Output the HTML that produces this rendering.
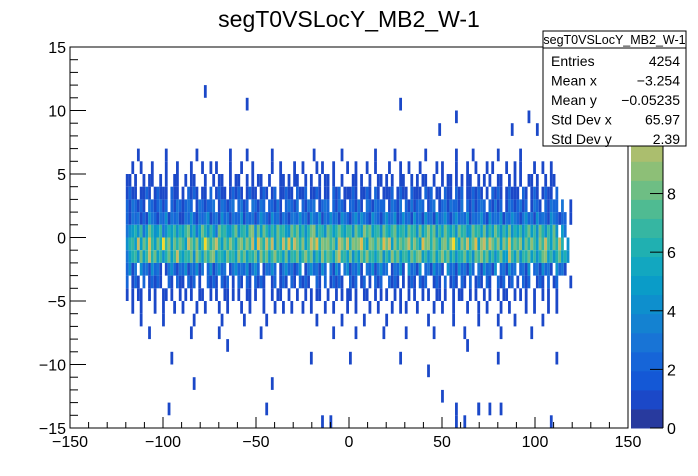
<!DOCTYPE html>
<html><head><meta charset="utf-8"><style>
body{margin:0;background:#fff;}
svg{display:block;font-family:"Liberation Sans",sans-serif;}
</style></head><body>
<svg id="c" width="698" height="476"></svg>
<script>
// x bins: width 1.5, starting at x=-120 (160 bins); rows keyed by y-bin lower edge
const binStartX = -120;
const binWidthX = 1.5;
const rowYs = [6,5,4,3,2,1,0,-1,-2,-3,-4,-5,-6,-7,-8];
const rowCounts = [
"....1.........1..........1...........1.....1........1..............1.........1...........1......1..........1..........1.....1........1.......1......",
"..1..1...1....1...1....1...1..1.1....1...1...1......1..1....1..1....1.1...1....1..1...1..1....1...1..1...1.....1.1....1...1..1...1.1....1..1.1....1..1..1",
"11.1..1.11..1.1..11..1.11...1..1.11..1.11..1.1.11..1...11.1.11..1.1..1.11.1..1...11.1..1..11.1.1..11..1.1.11..1..1.11.1.1.11..1.1.1..11..1.1.1..11.1..1.11......",
"1211.1121.12111.211.1.2121.11.2.1211.12121.1211.121.12.11211.2112.1121.11.212.11121.1121.21.1112.1211.2111.212.11.211.212.112121.1.2121.12111.21.121.1211.2.....",
"2132121.3212312.21321232.1321223.132123.2312.32132.22131.23213.21323.1232.21321.22131.3213222.13213.2131232.123.123132213.2131232.21312.13212312.1321.21322.3..1",
"21323121432132413231132421323412314231322413231243214231321332423143241324231432134243214321342341242314231423142342134232413234214232413243213423142321432122.1.",
"34564735864573465746578463586475386754684675894858647586754868574689576487568657748659785674865785675867485796847586574867458675847586475846574685748647584.53..",
"4675a586b7586c79586875a86957c868a758697589697a5b86a7a586a7b6a86957a8b6989785a97a6989b7598697b8a596878a6975b8969758969c7597a68b59a7a869597b687958697597a7586a6.4.",
"35674857a685746857a657684975868957658675968576849685796758476857968475968758a675847586967578475968577586895746857968574668574879685746855a758476857468957468564..",
"2413.42314231.13421324132413.2413423.13423241342.13242.13423124.13423142.3142.3413241.32413423.13241.42314.2314231.4231423142.3142314.231423.2314.2314231.4231....",
"2.121.2.12121..21.211.212.1..2121.212.1.21.21.2121..12.121.21.2121..21.2.12121..212.12.1.212..2121.1.121.212..121.2.121.21.2.121.21..212.12.1.212..121.2.12....1",
"1.1.11..1.1..11.1..1.1.1..11..1.1..11.1.1..11.1..1..1.11..1..1..1.1.11..1..1.1.11.1..11..1.1.1..1.1..1.1..1.1..11.1..1.11..1.1..1.1..1.11..1.1.1..1..1.1..1.....",
"..1..1....1..1...1..1....1..1....1..1....1..1....1...1..1..1...1..1....1..1....1..1....1..1....1..1.1...1.....1..1...1....1...1..1....1..1.....1..1....1..1.....",
".....1.......1..........1.........1.......1.......1.................1........1.......1.......1..............1........1........1......1.....1.........1.........",
"........1..............1.........1..............1.........................1.......1.........1.......1.........1..........1............1..........1..............."
];
// isolated entries far from the core band: x, y-bin lower edge, count
const sparseX = [-78,-55,27,57,48,88,96,101,-66,-20,0,27,63,80,112,-95,-83,42,-42,50,-97,-45,69,70,75,81,-15,-10,57,58,62,108];
const sparseY = [11,10,10,9,8,8,9,8,-9,-10,-10,-10,-9,-10,-10,-10,-12,-11,-12,-13,-14,-14,-14,-14,-14,-14,-15,-15,-14,-15,-15,-15];
const sparseC = [1,1,1,1,1,1,1,1,1,1,1,1,1,1,1,1,1,1,1,1,1,1,1,1,1,1,1,1,1,1,1,1];
const zMax = 13;
const paletteColors = ["#283a9e","#1b48c8","#1458d6","#1665d8","#1874d6","#1482d1","#0e8fcd","#0a9cc8","#12a7c0","#20b0b1","#36b6a2","#4fbb92","#6ebe84","#8dbf77","#abbe6e","#c8ba63","#ddbc4c","#ebc83a","#f3da28","#f8ef12"];

const NS="http://www.w3.org/2000/svg";
const svg=document.getElementById('c');
const fx0=70, fx1=628, fy0=47, fy1=428;
const xs=v=>fx0+(v+150)/300*(fx1-fx0);
const ys=v=>fy1-(v+15)/30*(fy1-fy0);
const zs=v=>fy1-v/zMax*(fy1-fy0);
function mk(t,a,p){const e=document.createElementNS(NS,t);for(const k in a)e.setAttribute(k,a[k]);(p||svg).appendChild(e);return e;}
function col(v){let i=Math.floor(v/zMax*20);if(i>19)i=19;if(i<0)i=0;return paletteColors[i];}
function val(ch){return ch==='.'?0:parseInt(ch,16);}

const cells=mk('g',{});


function cell(x0,y0,v){
  const r=mk('rect',{x:xs(x0),y:ys(y0+1),width:xs(x0+binWidthX)-xs(x0),height:ys(y0)-ys(y0+1),fill:col(v)},cells);
  
  
}
rowYs.forEach((y,ri)=>{
  const s=rowCounts[ri];
  for(let i=0;i<160&&i<s.length;i++){const v=val(s[i]);if(v>0)cell(binStartX+i*binWidthX,y,v);}
});
sparseX.forEach((x,i)=>{cell(binStartX+Math.floor((x-binStartX)/binWidthX)*binWidthX,sparseY[i],sparseC[i]);});

const fr=mk('rect',{x:fx0,y:fy0,width:fx1-fx0,height:fy1-fy0,fill:'none',stroke:'#000','stroke-width':1});



const xTicks=[-150,-100,-50,0,50,100,150];
const yTicks=[-15,-10,-5,0,5,10,15];
const zTicks=[0,2,4,6,8];
const ax=mk('g',{stroke:'#000','stroke-width':1});


for(let v=-150;v<=150;v+=10){const L=v%50===0?11:6;mk('line',{x1:xs(v),x2:xs(v),y1:fy1,y2:fy1-L},ax);}
for(let v=-15;v<=15;v+=1){const L=v%5===0?16:8;mk('line',{x1:fx0,x2:fx0+L,y1:ys(v),y2:ys(v)},ax);}
const fnt=v=>String(v).replace('-','\u2212');
xTicks.forEach(v=>{const t=mk('text',{x:xs(v),y:447,'font-size':16,'text-anchor':'middle'});t.textContent=fnt(v);
 });
yTicks.forEach(v=>{const t=mk('text',{x:66,y:ys(v)+6,'font-size':16,'text-anchor':'end'});t.textContent=fnt(v);
 });

const pal=mk('g',{});


paletteColors.forEach((c,i)=>{const a=i*zMax/20,b=(i+1)*zMax/20;
 mk('rect',{x:631,y:zs(b),width:32,height:zs(a)-zs(b)+0.5,fill:c},pal);});
mk('line',{x1:663,x2:663,y1:fy0,y2:fy1,stroke:'#000'},pal);
zTicks.forEach(v=>{mk('line',{x1:663,x2:650,y1:zs(v),y2:zs(v),stroke:'#000'},pal);
 const t=mk('text',{x:667,y:zs(v)+6,'font-size':16},pal);t.textContent=v;
 });

const ti=mk('text',{x:349,y:27,'font-size':23,'text-anchor':'middle'});
ti.textContent='segT0VSLocY_MB2_W-1';



const st=mk('g',{});


mk('rect',{x:543,y:31,width:143,height:115,fill:'#fff',stroke:'#000'},st);
mk('line',{x1:543,x2:686,y1:48,y2:48,stroke:'#000'},st);
const h=mk('text',{x:614.5,y:44,'font-size':12.5,'text-anchor':'middle'},st);h.textContent='segT0VSLocY_MB2_W-1';
const rows=[['Entries','4254'],['Mean x','\u22123.254'],['Mean y','\u22120.05235'],['Std Dev x','65.97'],['Std Dev y','2.39']];
rows.forEach((r,i)=>{const y=66+i*19.5;
 const a=mk('text',{x:551,y:y,'font-size':14},st);a.textContent=r[0];
 const b=mk('text',{x:680,y:y,'font-size':14,'text-anchor':'end'},st);b.textContent=r[1];});
</script>
</body></html>
